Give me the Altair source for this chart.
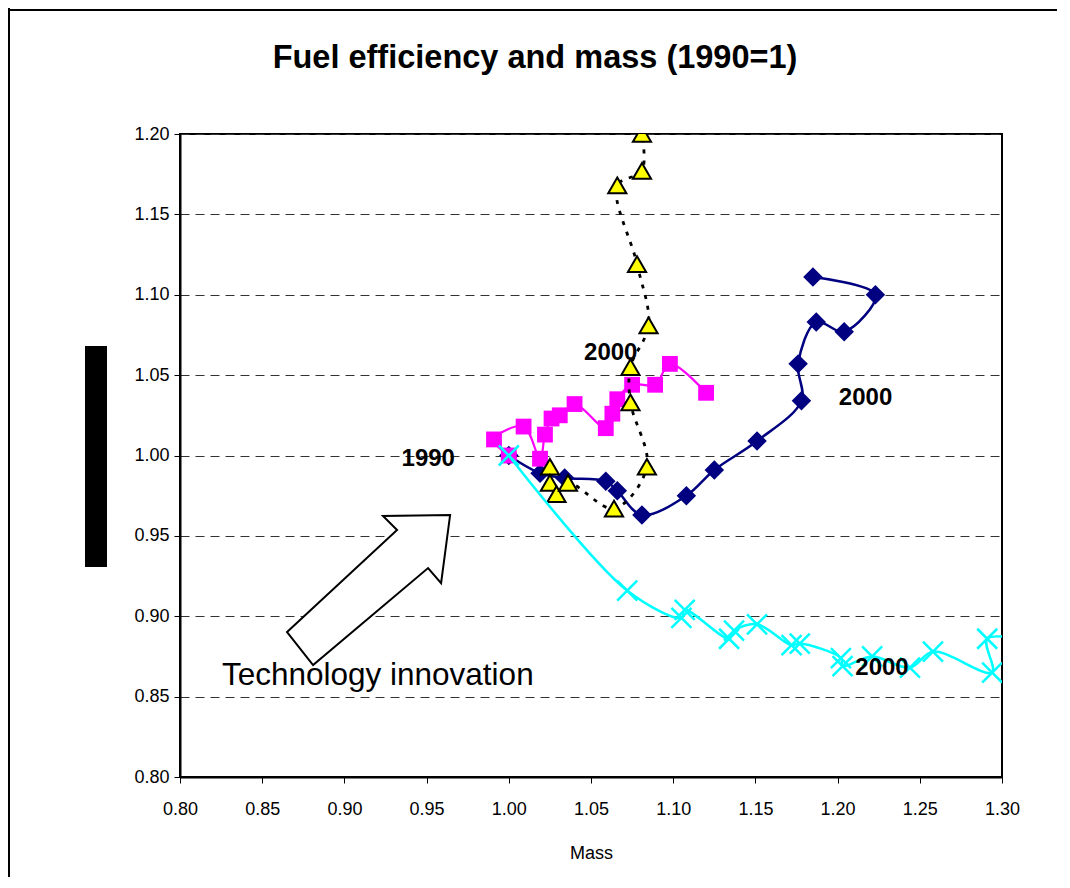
import altair as alt
import pandas as pd

# ---- data ----
navy_x = [1.000, 1.019, 1.034, 1.059, 1.066, 1.081, 1.108, 1.125, 1.151, 1.178, 1.176, 1.187, 1.204, 1.223, 1.185]
navy_y = [1.000, 0.989, 0.986, 0.984, 0.978, 0.963, 0.975, 0.991, 1.009, 1.034, 1.057, 1.083, 1.077, 1.100, 1.111]

pink_x = [1.000, 0.991, 1.009, 1.019, 1.022, 1.026, 1.031, 1.040, 1.059, 1.063, 1.066, 1.075, 1.089, 1.098, 1.120]
pink_y = [1.000, 1.010, 1.018, 0.998, 1.013, 1.023, 1.025, 1.032, 1.017, 1.026, 1.035, 1.044, 1.044, 1.057, 1.039]

yellow_x = [1.025, 1.025, 1.029, 1.036, 1.064, 1.084, 1.074, 1.074, 1.085, 1.078, 1.066, 1.081, 1.081]
yellow_y = [0.993, 0.983, 0.976, 0.983, 0.967, 0.993, 1.033, 1.055, 1.081, 1.119, 1.168, 1.177, 1.200]

cyan_x = [1.000, 1.072, 1.105, 1.107, 1.134, 1.137, 1.151, 1.172, 1.177, 1.202, 1.203, 1.221, 1.244, 1.258, 1.294, 1.291, 1.320]
cyan_y = [1.000, 0.916, 0.899, 0.904, 0.886, 0.891, 0.895, 0.882, 0.883, 0.874, 0.869, 0.875, 0.868, 0.878, 0.865, 0.886, 0.884]

x_ticks = [0.80, 0.85, 0.90, 0.95, 1.00, 1.05, 1.10, 1.15, 1.20, 1.25, 1.30]
y_ticks = [0.80, 0.85, 0.90, 0.95, 1.00, 1.05, 1.10, 1.15, 1.20]

year_labels = ["1990", "2000", "2000", "2000"]
year_x = [0.951, 1.062, 1.217, 1.227]
year_y = [0.998, 1.064, 1.036, 0.868]

note_text = ["Technology innovation"]
note_x = [0.8255]
note_y = [0.863]

arrow_x = [0.9144]
arrow_y = [0.9163]

title_text = ["Fuel efficiency and mass (1990=1)"]

FONT = "Liberation Sans"


def sdf(xs, ys):
    return pd.DataFrame({"mass": xs, "eff": ys, "order": list(range(len(xs)))})


xscale = alt.Scale(domain=[0.8, 1.3], nice=False, zero=False)
yscale = alt.Scale(domain=[0.8, 1.2], nice=False, zero=False)

x_axis = alt.Axis(values=x_ticks, format=".2f", title="Mass", labelFont=FONT, labelFontSize=18,
                  labelColor="black", tickColor="black", tickSize=6, domainColor="black",
                  domainWidth=2, grid=False, labelPadding=17, labelFlush=False, labelOverlap=False,
                  titleFont=FONT, titleFontSize=18, titleFontWeight="normal", titleColor="black",
                  titlePadding=26)
y_axis = alt.Axis(values=y_ticks, format=".2f", title=None, labelFont=FONT, labelFontSize=18,
                  labelColor="black", tickColor="black", tickSize=6, domainColor="black",
                  domainWidth=2, grid=True, gridColor="#333333", gridDash=[9, 6], gridWidth=1,
                  labelPadding=5, labelOverlap=False)

X = alt.X("mass:Q", scale=xscale, axis=x_axis)
Y = alt.Y("eff:Q", scale=yscale, axis=y_axis)


def line_layer(df, color, width, dash=None):
    kw = dict(color=color, strokeWidth=width, interpolate="catmull-rom", clip=True)
    if dash:
        kw["strokeDash"] = dash
    return alt.Chart(df).mark_line(**kw).encode(x=X, y=Y, order=alt.Order("order:Q"))


navy = sdf(navy_x, navy_y)
pink = sdf(pink_x, pink_y)
yellow = sdf(yellow_x, yellow_y)
cyan = sdf(cyan_x, cyan_y)

layers = []

# arrow annotation
arrow_path = ("M -0.953 0.494 L 0.341 -0.706 L 0.176 -0.871 L 0.965 -0.882 "
              "L 0.859 -0.082 L 0.706 -0.259 L -0.647 0.882 Z")
arrow = alt.Chart(pd.DataFrame({"mass": arrow_x, "eff": arrow_y})).mark_point(
    shape=arrow_path, size=28900, filled=True, fill="white", stroke="black", strokeWidth=2, opacity=1
).encode(x=X, y=Y)
layers.append(arrow)

note = alt.Chart(pd.DataFrame({"mass": note_x, "eff": note_y, "t": note_text})).mark_text(
    font=FONT, fontSize=31.5, align="left", baseline="middle", color="black"
).encode(x=X, y=Y, text="t:N")
layers.append(note)

# navy series
layers.append(line_layer(navy, "#000080", 2.5))
layers.append(alt.Chart(navy).mark_point(shape="diamond", size=380, filled=True, color="#000080",
                                         opacity=1, clip=True).encode(x=X, y=Y))
# magenta series
layers.append(line_layer(pink, "#FF00FF", 2.2))
layers.append(alt.Chart(pink).mark_point(shape="square", size=250, filled=True, color="#FF00FF",
                                         opacity=1, clip=True).encode(x=X, y=Y))
# yellow series
layers.append(line_layer(yellow, "black", 2.8, dash=[4, 7]))
layers.append(alt.Chart(yellow).mark_point(shape="triangle-up", size=330, filled=True, fill="#FFFF00",
                                           stroke="black", strokeWidth=2, opacity=1,
                                           clip=True).encode(x=X, y=Y))
# cyan series
layers.append(line_layer(cyan, "#00FFFF", 2.5))
layers.append(alt.Chart(cyan).mark_point(shape="M -1 -1 L 1 1 M -1 1 L 1 -1", size=400, filled=False,
                                         stroke="#00FFFF", strokeWidth=2.5, opacity=1,
                                         clip=True).encode(x=X, y=Y))

# year labels
layers.append(alt.Chart(pd.DataFrame({"mass": year_x, "eff": year_y, "t": year_labels})).mark_text(
    font=FONT, fontSize=24, fontWeight="bold", align="center", baseline="middle", color="black"
).encode(x=X, y=Y, text="t:N"))

# chart title, centred over the whole frame
one = pd.DataFrame({"a": [0]})
layers.append(alt.Chart(pd.DataFrame({"t": title_text})).mark_text(
    font=FONT, fontSize=32.5, fontWeight="bold", align="center", baseline="middle", color="black"
).encode(x=alt.value(355), y=alt.value(-76), text="t:N"))

# decorative pieces: black bar in place of y title, outer frame lines
layers.append(alt.Chart(one).mark_rect(color="black").encode(
    x=alt.value(-95), x2=alt.value(-73), y=alt.value(212), y2=alt.value(433)))
layers.append(alt.Chart(one).mark_rule(color="black", strokeWidth=2).encode(
    x=alt.value(-172), x2=alt.value(1000), y=alt.value(-124)))
layers.append(alt.Chart(one).mark_rule(color="black", strokeWidth=2).encode(
    x=alt.value(-171), y=alt.value(-126), y2=alt.value(760)))

chart = alt.layer(*layers).properties(
    width=822,
    height=643,
    autosize=alt.AutoSizeParams(type="none"),
    padding={"left": 172, "top": 126, "right": 55, "bottom": 100},
    background="white",
).configure_view(stroke="black", strokeWidth=2)

chart.save("out.html", embed_options={"renderer": "svg", "actions": False})
